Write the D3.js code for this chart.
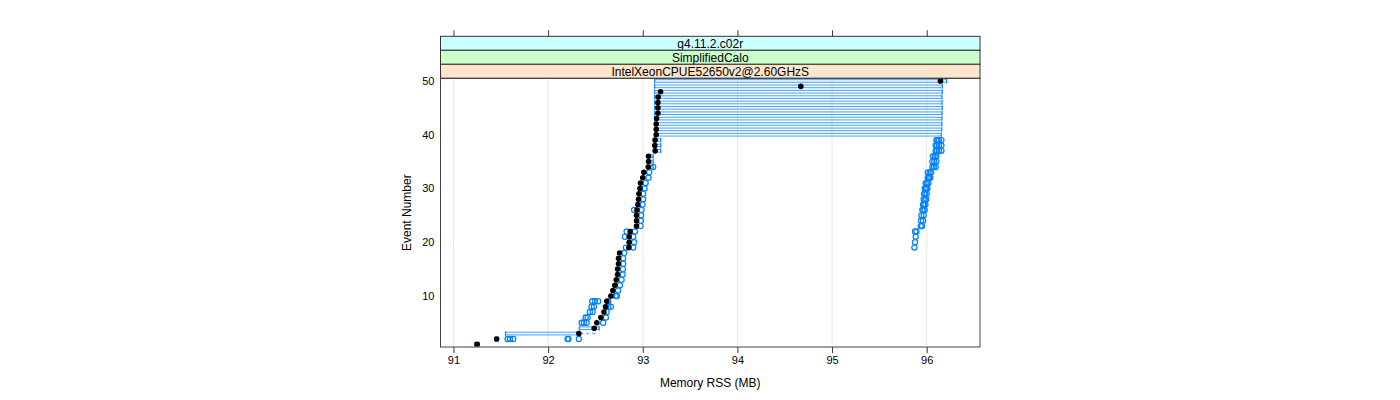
<!DOCTYPE html>
<html>
<head>
<meta charset="UTF-8">
<title>Memory RSS per event</title>
<script src="https://d3js.org/d3.v7.min.js"></script>
<style>
	body { margin: 0; background: #fff; }
	text { font-family: "Liberation Sans", Arial, sans-serif; }
</style>
</head>
<body>
	<svg id="chart" width="1400" height="400"></svg>
	<script type="text/javascript">
		// event numbers on the y axis
		var events = d3.range(1, 51);

		// black points, one per event
		var meanRss = [91.25, 91.456, 92.325, 92.487, 92.515, 92.557, 92.59, 92.607, 92.62, 92.663,
			92.684, 92.705, 92.72, 92.734, 92.734, 92.744, 92.744, 92.755, 92.853, 92.856,
			92.856, 92.867, 92.934, 92.934, 92.934, 92.938, 92.948, 92.955, 92.96, 92.97,
			92.976, 93.0, 93.012, 93.058, 93.061, 93.061, 93.131, 93.127, 93.13, 93.142,
			93.142, 93.142, 93.146, 93.16, 93.16, 93.16, 93.163, 93.188, 94.67, 96.145];

		// error bars (null = none)
		var barLo = [91.225, 91.44, 91.55, 92.33, null, null, null, null, null, null,
			null, null, null, null, null, null, null, null, null, null,
			null, null, null, null, null, null, null, null, null, null,
			null, null, null, 93.054, 93.054, 93.054, 93.12, 93.12, 93.12, 93.125,
			93.125, 93.125, 93.125, 93.125, 93.125, 93.125, 93.125, 93.125, 93.125, 93.125];
		var barHi = [91.272, 91.475, 92.33, 92.54, null, null, null, null, null, null,
			null, null, null, null, null, null, null, null, null, null,
			null, null, null, null, null, null, null, null, null, null,
			null, null, null, 93.11, 93.11, 93.11, 93.19, 93.19, 93.19, 96.155,
			96.158, 96.16, 96.16, 96.162, 96.165, 96.162, 96.16, 96.165, 96.165, 96.21];

		// dashed extension
		var dashEvent = [3];
		var dashLo = [92.34];
		var dashHi = [92.52];

		// blue open circles, one list per event
		var runs = [
			[],
			[91.572, 91.597, 91.631, 92.206, 92.215, 92.325],
			[],
			[],
			[92.354, 92.378, 92.407, 92.582],
			[92.396, 92.417, 92.61],
			[92.441, 92.47, 92.618],
			[92.459, 92.484, 92.635, 92.663],
			[92.466, 92.494, 92.529, 92.635],
			[92.713, 92.727],
			[92.74],
			[92.758],
			[92.776],
			[92.787],
			[92.79],
			[92.793],
			[92.793],
			[92.804],
			[92.822, 92.899, 95.87],
			[92.909, 95.877],
			[92.811, 92.899, 95.884],
			[92.829, 92.917, 95.877, 95.891],
			[92.977, 95.937, 95.95],
			[92.98, 95.94, 95.961],
			[92.983, 95.944, 95.968],
			[92.909, 92.987, 95.954, 95.965, 95.979],
			[92.998, 95.961, 95.972, 95.986],
			[93.004, 95.968, 95.98, 95.996],
			[93.004, 95.972, 95.985, 96.0],
			[93.019, 95.979, 95.993, 96.007],
			[93.03, 95.989, 96.003, 96.018],
			[93.061, 96.011, 96.025, 96.039],
			[93.068, 96.011, 96.03, 96.046],
			[93.11, 96.06, 96.075, 96.095],
			[96.06, 96.08, 96.102],
			[96.067, 96.085, 96.102],
			[96.095, 96.11, 96.13, 96.155],
			[96.095, 96.11, 96.13, 96.155],
			[96.102, 96.115, 96.13, 96.155],
			[], [], [], [], [], [], [], [], [], [], []
		];

		// strip labels, outer first
		var stripLabels = ["g4.11.2.c02r", "SimplifiedCalo", "IntelXeonCPUE52650v2@2.60GHzS"];
		var stripColors = ["#ccffff", "#ccffcc", "#ffe5cc"];

		var xTicks = [91, 92, 93, 94, 95, 96];
		var yTicks = [10, 20, 30, 40, 50];

		var panelLeft = 440.5, panelRight = 980, panelTop = 78.3, panelBottom = 347;
		var stripH = 14;
		var blue = "#0080ff";

		var x = d3.scaleLinear().domain([90.863, 96.563]).range([panelLeft, panelRight]);
		var y = d3.scaleLinear().domain([0.5, 50.5]).range([panelBottom, panelTop]);

		var svg = d3.select("#chart");

		// grid lines
		svg.append("g").selectAll("line")
			.data(xTicks).enter().append("line")
			.attr("x1", d => x(d)).attr("x2", d => x(d))
			.attr("y1", panelTop).attr("y2", panelBottom)
			.attr("stroke", "#e8e8e8").attr("stroke-width", 1);

		// bottom axis
		var xAxis = svg.append("g")
			.attr("transform", "translate(0," + panelBottom + ")")
			.call(d3.axisBottom(x).tickValues(xTicks).tickFormat(d3.format("d"))
				.tickSize(6).tickSizeOuter(0).tickPadding(3));
		xAxis.select(".domain").remove();
		xAxis.selectAll("line").attr("stroke", "#333");
		xAxis.selectAll("text").attr("font-size", 11).attr("fill", "#000")
			.attr("font-family", "Liberation Sans, Arial, sans-serif");

		// top axis sits above the strips
		var stripTop = panelTop - stripH * stripLabels.length;
		var topAxis = svg.append("g")
			.attr("transform", "translate(0," + stripTop + ")")
			.call(d3.axisTop(x).tickValues(xTicks).tickSize(6).tickSizeOuter(0).tickFormat(""));
		topAxis.select(".domain").remove();
		topAxis.selectAll("line").attr("stroke", "#333");

		// y labels (no tick marks)
		svg.append("g").selectAll("text")
			.data(yTicks).enter().append("text")
			.attr("x", panelLeft - 6).attr("y", d => y(d))
			.attr("dy", "0.35em").attr("text-anchor", "end")
			.attr("font-size", 11).text(d => d);

		// strips
		var strip = svg.append("g").selectAll("g")
			.data(stripLabels).enter().append("g");
		strip.append("rect")
			.attr("x", panelLeft).attr("width", panelRight - panelLeft)
			.attr("y", (d, i) => stripTop + i * stripH).attr("height", stripH)
			.attr("fill", (d, i) => stripColors[i]).attr("stroke", "#333").attr("stroke-width", 1);
		strip.append("text")
			.attr("x", (panelLeft + panelRight) / 2)
			.attr("y", (d, i) => stripTop + i * stripH + stripH / 2)
			.attr("dy", "0.36em").attr("text-anchor", "middle")
			.attr("font-size", 12).text(d => d);

		// error bars, drawn as a thin double line with caps
		var bars = events.map((e, i) => ({ e: e, lo: barLo[i], hi: barHi[i] })).filter(d => d.lo != null);
		var barG = svg.append("g").attr("stroke", blue).attr("stroke-opacity", 0.7).attr("fill", "none");
		barG.selectAll("rect.bar")
			.data(bars).enter().append("rect").classed("bar", true)
			.attr("x", d => x(d.lo)).attr("width", d => x(d.hi) - x(d.lo))
			.attr("y", d => y(d.e) - 1.3).attr("height", 2.6)
			.attr("stroke-width", 1.1);
		barG.selectAll("path.cap")
			.data(bars).enter().append("path").classed("cap", true)
			.attr("d", d => "M" + x(d.lo) + "," + (y(d.e) - 2.5) + "V" + (y(d.e) + 2.5)
				+ "M" + x(d.hi) + "," + (y(d.e) - 2.5) + "V" + (y(d.e) + 2.5))
			.attr("stroke-width", 1.2);

		svg.append("g").selectAll("line")
			.data(dashEvent).enter().append("line")
			.attr("x1", (d, i) => x(dashLo[i])).attr("x2", (d, i) => x(dashHi[i]))
			.attr("y1", d => y(d)).attr("y2", d => y(d))
			.attr("stroke", blue).attr("stroke-opacity", 0.6)
			.attr("stroke-width", 1.5).attr("stroke-dasharray", "3,3");

		// blue open circles
		var pts = [];
		runs.forEach(function(list, i) {
			list.forEach(function(v) { pts.push({ e: events[i], v: v }); });
		});
		svg.append("g").selectAll("circle")
			.data(pts).enter().append("circle")
			.attr("cx", d => x(d.v)).attr("cy", d => y(d.e)).attr("r", 2.6)
			.attr("fill", "none").attr("stroke", blue).attr("stroke-width", 1.2);

		// black points
		svg.append("g").selectAll("circle")
			.data(meanRss).enter().append("circle")
			.attr("cx", d => x(d)).attr("cy", (d, i) => y(events[i])).attr("r", 2.8)
			.attr("fill", "#000");

		// panel border
		svg.append("rect")
			.attr("x", panelLeft).attr("y", panelTop)
			.attr("width", panelRight - panelLeft).attr("height", panelBottom - panelTop)
			.attr("fill", "none").attr("stroke", "#444").attr("stroke-width", 1);

		// axis titles
		svg.append("text")
			.attr("x", (panelLeft + panelRight) / 2).attr("y", 387)
			.attr("text-anchor", "middle").attr("font-size", 12)
			.text("Memory RSS (MB)");
		svg.append("text")
			.attr("transform", "translate(411," + (panelTop + panelBottom) / 2 + ") rotate(-90)")
			.attr("text-anchor", "middle").attr("font-size", 12)
			.text("Event Number");
	</script>
</body>
</html>
